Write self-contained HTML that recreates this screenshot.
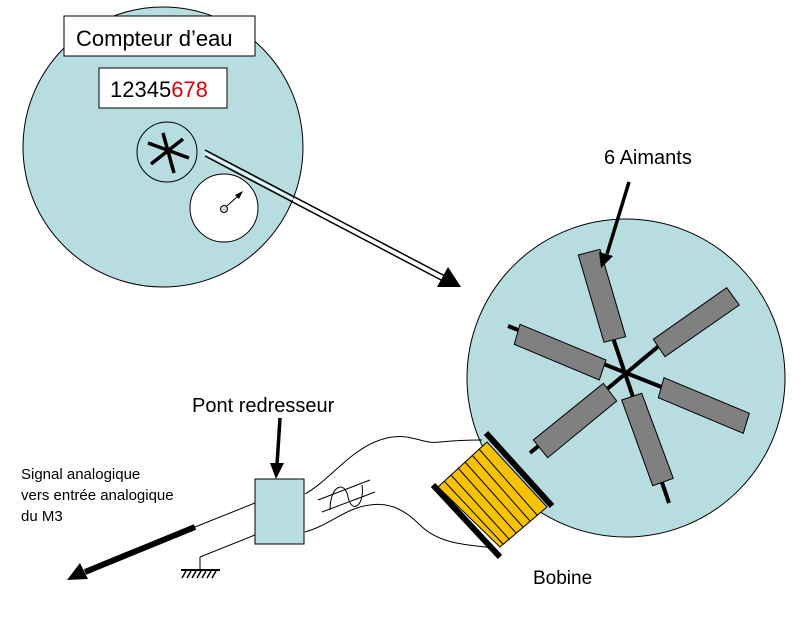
<!DOCTYPE html>
<html><head><meta charset="utf-8"><style>
body{margin:0;background:#fff}
svg{display:block}
text{font-family:"Liberation Sans",sans-serif}
</style></head><body>
<svg width="802" height="630" viewBox="0 0 802 630" xmlns="http://www.w3.org/2000/svg">
<!-- left meter -->
<circle cx="163" cy="147" r="140" fill="#b7dde1" stroke="#000" stroke-width="1"/>
<rect x="64" y="16" width="191" height="40" fill="#fff" stroke="#000"/>
<text x="76" y="46" font-size="22">Compteur d’eau</text>
<rect x="99" y="68" width="128" height="40" fill="#fff" stroke="#000"/>
<text x="110" y="97" font-size="22">12345<tspan fill="#e00000">678</tspan></text>
<circle cx="167" cy="152" r="30" fill="#b7dde1" stroke="#000"/>
<g stroke="#000" stroke-width="3.5">
<line x1="163" y1="133" x2="174" y2="173"/>
<line x1="148" y1="143" x2="189" y2="158"/>
<line x1="151" y1="164" x2="183" y2="139"/>
</g>
<circle cx="224" cy="208" r="34" fill="#fff" stroke="#000"/>
<circle cx="224" cy="209" r="3.5" fill="#ddd" stroke="#000"/>
<line x1="227" y1="206" x2="238" y2="196" stroke="#000"/>
<polygon points="243,191 235,195 239,199" fill="#000"/>
<!-- double arrow -->
<g stroke="#000" stroke-width="1.5">
<line x1="205" y1="150" x2="445" y2="276"/>
<line x1="205" y1="156" x2="443" y2="281"/>
</g>
<line x1="205" y1="153" x2="444" y2="278.5" stroke="#fff" stroke-width="1.5"/>
<polygon points="437,287 448,267 461,287" fill="#000"/>
<!-- right rotor -->
<circle cx="626" cy="378" r="159" fill="#b7dde1" stroke="#000"/>
<g stroke="#000" stroke-width="4">
<line x1="508" y1="326" x2="664" y2="388"/>
<line x1="530" y1="453" x2="660" y2="345"/>
<line x1="612" y1="335" x2="669" y2="503"/>
</g>
<g fill="#808080" stroke="#000" stroke-width="1">
<polygon points="578.3,255 600,249.3 625.7,336.7 604,342.3"/>
<polygon points="653.3,339.3 726.7,287.7 739.3,305 665,356.7"/>
<polygon points="520,324.3 606,360 599.3,380 514.3,344.3"/>
<polygon points="664,377.7 749.3,413.3 743.3,433.3 658.3,397.7"/>
<polygon points="603.3,383.3 616.7,401 547.7,457.7 533.3,440"/>
<polygon points="621.7,400 641.7,393.3 673.3,478.3 652.7,485.7"/>
</g>
<text x="604" y="164" font-size="20">6 Aimants</text>
<line x1="629" y1="182" x2="607" y2="254" stroke="#000" stroke-width="3.5"/>
<polygon points="601,268 599,252 613,256" fill="#000"/>
<!-- coil -->
<polygon points="438,487 487,442 547,507 500,547" fill="#f7c300" stroke="#000"/>
<g stroke="#000" stroke-width="1">
<line x1="444" y1="481" x2="503" y2="544"/>
<line x1="451" y1="475" x2="509" y2="539"/>
<line x1="458" y1="468" x2="516" y2="533"/>
<line x1="465" y1="462" x2="523" y2="527"/>
<line x1="472" y1="455" x2="530" y2="521"/>
<line x1="479" y1="449" x2="537" y2="515"/>
</g>
<g stroke="#000" stroke-width="6">
<line x1="486" y1="433" x2="552" y2="506"/>
<line x1="433" y1="485" x2="500" y2="557"/>
</g>
<!-- wires -->
<g fill="none" stroke="#000" stroke-width="1">
<path d="M305,494 C330,480 350,450 380,440 C410,430 420,445 440,442 C460,440 470,440 482,440"/>
<path d="M305,532 C330,525 345,508 370,505 C390,502 405,510 420,525 C440,545 470,545 495,548"/>
<path d="M318,500 L370,480 M322,512 L375,492"/>
<path d="M330,510 C330,485 345,480 348,497 C352,515 365,505 362,485"/>
<line x1="255" y1="503" x2="195" y2="527"/>
<line x1="255" y1="535" x2="200" y2="557"/>
<line x1="200" y1="557" x2="200" y2="569"/>
<line x1="181" y1="570" x2="220" y2="570" stroke-width="2"/>
<path d="M186,571 l-4,7 M191,571 l-4,7 M196,571 l-4,7 M201,571 l-4,7 M206,571 l-4,7 M211,571 l-4,7 M216,571 l-4,7" stroke-width="1.5"/>
</g>
<line x1="195" y1="527" x2="85" y2="572" stroke="#000" stroke-width="6"/>
<polygon points="67,580 80,563 88,579" fill="#000"/>
<rect x="255" y="479" width="49" height="65" fill="#b7dde1" stroke="#000"/>
<text x="192" y="412" font-size="20">Pont redresseur</text>
<line x1="280" y1="418" x2="277" y2="465" stroke="#000" stroke-width="3.5"/>
<polygon points="276,479 270,463 284,463" fill="#000"/>
<text x="21" y="479" font-size="15">Signal analogique</text>
<text x="21" y="500" font-size="15">vers entrée analogique</text>
<text x="21" y="521" font-size="15">du M3</text>
<text x="533" y="584" font-size="19">Bobine</text>
</svg>
</body></html>
